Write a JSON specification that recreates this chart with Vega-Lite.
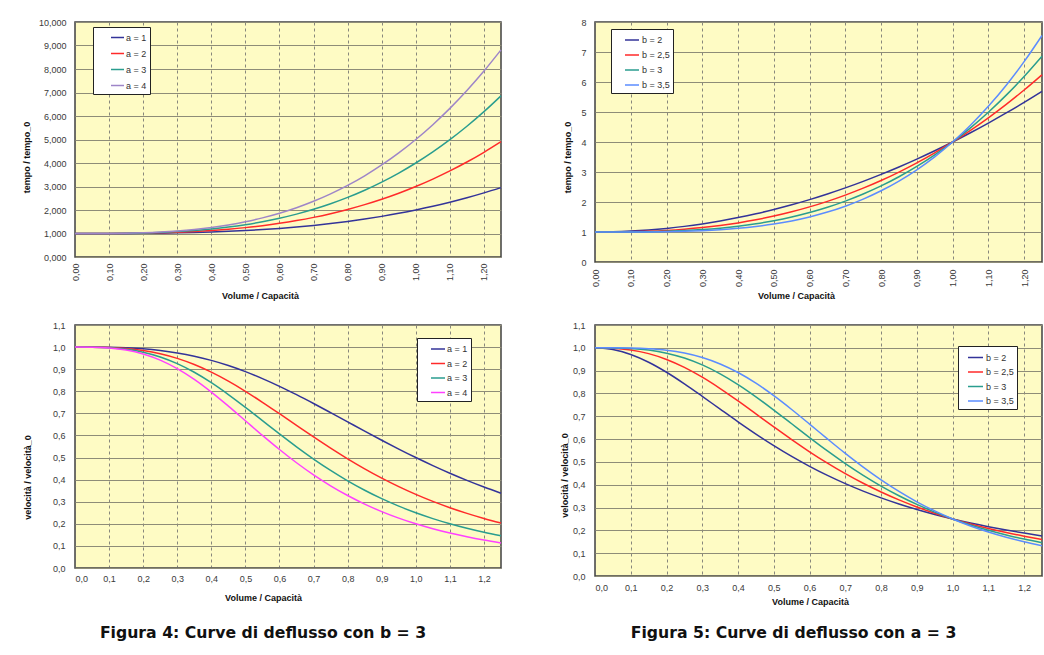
{
  "$schema": "https://vega.github.io/schema/vega-lite/v6.json",
  "padding": {"left": 21, "top": 17, "right": 0, "bottom": 0},
  "background": "white",
  "columns": 2,
  "bounds": "flush",
  "spacing": {"row": 63, "column": 94},
  "datasets": {
    "t4": [
      {"x":0,"a1":1,"a2":1,"a3":1,"a4":1},
      {"x":0.05,"a1":1.0001,"a2":1.0003,"a3":1.0004,"a4":1.0005},
      {"x":0.1,"a1":1.001,"a2":1.002,"a3":1.003,"a4":1.004},
      {"x":0.15,"a1":1.0034,"a2":1.0068,"a3":1.0101,"a4":1.0135},
      {"x":0.2,"a1":1.008,"a2":1.016,"a3":1.024,"a4":1.032},
      {"x":0.25,"a1":1.0156,"a2":1.0313,"a3":1.0469,"a4":1.0625},
      {"x":0.3,"a1":1.027,"a2":1.054,"a3":1.081,"a4":1.108},
      {"x":0.35,"a1":1.0429,"a2":1.0858,"a3":1.1286,"a4":1.1715},
      {"x":0.4,"a1":1.064,"a2":1.128,"a3":1.192,"a4":1.256},
      {"x":0.45,"a1":1.0911,"a2":1.1823,"a3":1.2734,"a4":1.3645},
      {"x":0.5,"a1":1.125,"a2":1.25,"a3":1.375,"a4":1.5},
      {"x":0.55,"a1":1.1664,"a2":1.3328,"a3":1.4991,"a4":1.6655},
      {"x":0.6,"a1":1.216,"a2":1.432,"a3":1.648,"a4":1.864},
      {"x":0.65,"a1":1.2746,"a2":1.5493,"a3":1.8239,"a4":2.0985},
      {"x":0.7,"a1":1.343,"a2":1.686,"a3":2.029,"a4":2.372},
      {"x":0.75,"a1":1.4219,"a2":1.8438,"a3":2.2656,"a4":2.6875},
      {"x":0.8,"a1":1.512,"a2":2.024,"a3":2.536,"a4":3.048},
      {"x":0.85,"a1":1.6141,"a2":2.2283,"a3":2.8424,"a4":3.4565},
      {"x":0.9,"a1":1.729,"a2":2.458,"a3":3.187,"a4":3.916},
      {"x":0.95,"a1":1.8574,"a2":2.7148,"a3":3.5721,"a4":4.4295},
      {"x":1,"a1":2,"a2":3,"a3":4,"a4":5},
      {"x":1.05,"a1":2.1576,"a2":3.3153,"a3":4.4729,"a4":5.6305},
      {"x":1.1,"a1":2.331,"a2":3.662,"a3":4.993,"a4":6.324},
      {"x":1.15,"a1":2.5209,"a2":4.0418,"a3":5.5626,"a4":7.0835},
      {"x":1.2,"a1":2.728,"a2":4.456,"a3":6.184,"a4":7.912},
      {"x":1.25,"a1":2.9531,"a2":4.9063,"a3":6.8594,"a4":8.8125}
    ],
    "v4": [
      {"x":0,"a1":1,"a2":1,"a3":1,"a4":1},
      {"x":0.05,"a1":0.9999,"a2":0.9998,"a3":0.9996,"a4":0.9995},
      {"x":0.1,"a1":0.999,"a2":0.998,"a3":0.997,"a4":0.996},
      {"x":0.15,"a1":0.9966,"a2":0.9933,"a3":0.99,"a4":0.9867},
      {"x":0.2,"a1":0.9921,"a2":0.9843,"a3":0.9766,"a4":0.969},
      {"x":0.25,"a1":0.9846,"a2":0.9697,"a3":0.9552,"a4":0.9412},
      {"x":0.3,"a1":0.9737,"a2":0.9488,"a3":0.9251,"a4":0.9025},
      {"x":0.35,"a1":0.9589,"a2":0.921,"a3":0.886,"a4":0.8536},
      {"x":0.4,"a1":0.9398,"a2":0.8865,"a3":0.8389,"a4":0.7962},
      {"x":0.45,"a1":0.9165,"a2":0.8458,"a3":0.7853,"a4":0.7329},
      {"x":0.5,"a1":0.8889,"a2":0.8,"a3":0.7273,"a4":0.6667},
      {"x":0.55,"a1":0.8574,"a2":0.7503,"a3":0.6671,"a4":0.6004},
      {"x":0.6,"a1":0.8224,"a2":0.6983,"a3":0.6068,"a4":0.5365},
      {"x":0.65,"a1":0.7845,"a2":0.6455,"a3":0.5483,"a4":0.4765},
      {"x":0.7,"a1":0.7446,"a2":0.5931,"a3":0.4929,"a4":0.4216},
      {"x":0.75,"a1":0.7033,"a2":0.5424,"a3":0.4414,"a4":0.3721},
      {"x":0.8,"a1":0.6614,"a2":0.4941,"a3":0.3943,"a4":0.3281},
      {"x":0.85,"a1":0.6195,"a2":0.4488,"a3":0.3518,"a4":0.2893},
      {"x":0.9,"a1":0.5784,"a2":0.4068,"a3":0.3138,"a4":0.2554},
      {"x":0.95,"a1":0.5384,"a2":0.3684,"a3":0.28,"a4":0.2258},
      {"x":1,"a1":0.5,"a2":0.3333,"a3":0.25,"a4":0.2},
      {"x":1.05,"a1":0.4635,"a2":0.3016,"a3":0.2236,"a4":0.1776},
      {"x":1.1,"a1":0.429,"a2":0.2731,"a3":0.2003,"a4":0.1581},
      {"x":1.15,"a1":0.3967,"a2":0.2474,"a3":0.1798,"a4":0.1412},
      {"x":1.2,"a1":0.3666,"a2":0.2244,"a3":0.1617,"a4":0.1264},
      {"x":1.25,"a1":0.3386,"a2":0.2038,"a3":0.1458,"a4":0.1135}
    ],
    "t5": [
      {"x":0,"b2":1,"b25":1,"b3":1,"b35":1},
      {"x":0.05,"b2":1.0075,"b25":1.0017,"b3":1.0004,"b35":1.0001},
      {"x":0.1,"b2":1.03,"b25":1.0095,"b3":1.003,"b35":1.0009},
      {"x":0.15,"b2":1.0675,"b25":1.0261,"b3":1.0101,"b35":1.0039},
      {"x":0.2,"b2":1.12,"b25":1.0537,"b3":1.024,"b35":1.0107},
      {"x":0.25,"b2":1.1875,"b25":1.0938,"b3":1.0469,"b35":1.0234},
      {"x":0.3,"b2":1.27,"b25":1.1479,"b3":1.081,"b35":1.0444},
      {"x":0.35,"b2":1.3675,"b25":1.2174,"b3":1.1286,"b35":1.0761},
      {"x":0.4,"b2":1.48,"b25":1.3036,"b3":1.192,"b35":1.1214},
      {"x":0.45,"b2":1.6075,"b25":1.4075,"b3":1.2734,"b35":1.1834},
      {"x":0.5,"b2":1.75,"b25":1.5303,"b3":1.375,"b35":1.2652},
      {"x":0.55,"b2":1.9075,"b25":1.673,"b3":1.4991,"b35":1.3702},
      {"x":0.6,"b2":2.08,"b25":1.8366,"b3":1.648,"b35":1.5019},
      {"x":0.65,"b2":2.2675,"b25":2.0219,"b3":1.8239,"b35":1.6642},
      {"x":0.7,"b2":2.47,"b25":2.2299,"b3":2.029,"b35":1.8609},
      {"x":0.75,"b2":2.6875,"b25":2.4614,"b3":2.2656,"b35":2.0961},
      {"x":0.8,"b2":2.92,"b25":2.7173,"b3":2.536,"b35":2.3738},
      {"x":0.85,"b2":3.1675,"b25":2.9983,"b3":2.8424,"b35":2.6986},
      {"x":0.9,"b2":3.43,"b25":3.3053,"b3":3.187,"b35":3.0748},
      {"x":0.95,"b2":3.7075,"b25":3.6389,"b3":3.5721,"b35":3.507},
      {"x":1,"b2":4,"b25":4,"b3":4,"b35":4},
      {"x":1.05,"b2":4.3075,"b25":4.3892,"b3":4.4729,"b35":4.5586},
      {"x":1.1,"b2":4.63,"b25":4.8072,"b3":4.993,"b35":5.1879},
      {"x":1.15,"b2":4.9675,"b25":5.2547,"b3":5.5626,"b35":5.8929},
      {"x":1.2,"b2":5.32,"b25":5.7323,"b3":6.184,"b35":6.6788},
      {"x":1.25,"b2":5.6875,"b25":6.2408,"b3":6.8594,"b35":7.551}
    ],
    "v5": [
      {"x":0,"b2":1,"b25":1,"b3":1,"b35":1},
      {"x":0.05,"b2":0.9926,"b25":0.9983,"b3":0.9996,"b35":0.9999},
      {"x":0.1,"b2":0.9709,"b25":0.9906,"b3":0.997,"b35":0.9991},
      {"x":0.15,"b2":0.9368,"b25":0.9745,"b3":0.99,"b35":0.9961},
      {"x":0.2,"b2":0.8929,"b25":0.9491,"b3":0.9766,"b35":0.9894},
      {"x":0.25,"b2":0.8421,"b25":0.9143,"b3":0.9552,"b35":0.9771},
      {"x":0.3,"b2":0.7874,"b25":0.8712,"b3":0.9251,"b35":0.9575},
      {"x":0.35,"b2":0.7313,"b25":0.8214,"b3":0.886,"b35":0.9293},
      {"x":0.4,"b2":0.6757,"b25":0.7671,"b3":0.8389,"b35":0.8917},
      {"x":0.45,"b2":0.6221,"b25":0.7105,"b3":0.7853,"b35":0.845},
      {"x":0.5,"b2":0.5714,"b25":0.6535,"b3":0.7273,"b35":0.7904},
      {"x":0.55,"b2":0.5242,"b25":0.5977,"b3":0.6671,"b35":0.7298},
      {"x":0.6,"b2":0.4808,"b25":0.5445,"b3":0.6068,"b35":0.6658},
      {"x":0.65,"b2":0.441,"b25":0.4946,"b3":0.5483,"b35":0.6009},
      {"x":0.7,"b2":0.4049,"b25":0.4485,"b3":0.4929,"b35":0.5374},
      {"x":0.75,"b2":0.3721,"b25":0.4063,"b3":0.4414,"b35":0.4771},
      {"x":0.8,"b2":0.3425,"b25":0.368,"b3":0.3943,"b35":0.4213},
      {"x":0.85,"b2":0.3157,"b25":0.3335,"b3":0.3518,"b35":0.3706},
      {"x":0.9,"b2":0.2915,"b25":0.3025,"b3":0.3138,"b35":0.3252},
      {"x":0.95,"b2":0.2697,"b25":0.2748,"b3":0.28,"b35":0.2852},
      {"x":1,"b2":0.25,"b25":0.25,"b3":0.25,"b35":0.25},
      {"x":1.05,"b2":0.2322,"b25":0.2278,"b3":0.2236,"b35":0.2194},
      {"x":1.1,"b2":0.216,"b25":0.208,"b3":0.2003,"b35":0.1928},
      {"x":1.15,"b2":0.2013,"b25":0.1903,"b3":0.1798,"b35":0.1697},
      {"x":1.2,"b2":0.188,"b25":0.1745,"b3":0.1617,"b35":0.1497},
      {"x":1.25,"b2":0.1758,"b25":0.1602,"b3":0.1458,"b35":0.1324}
    ]
  },
  "concat": [
    {
      "width": 426, "height": 235,
      "data": {"name": "t4"},
      "transform": [{"fold": ["a1","a2","a3","a4"], "as": ["k","y"]}],
      "mark": {"type": "line", "interpolate": "monotone", "strokeWidth": 1.5},
      "encoding": {
        "x": {"field": "x", "type": "quantitative", "scale": {"domain": [0, 1.25], "nice": false},
          "axis": {"title": "Volume / Capacità", "values": [0,0.1,0.2,0.3,0.4,0.5,0.6,0.7,0.8,0.9,1,1.1,1.2], "format": ".2f", "labelAngle": -90, "labelPadding": 6, "titleX": 185, "titleY": 38, "titleBaseline": "middle"}},
        "y": {"field": "y", "type": "quantitative", "scale": {"domain": [0, 10], "nice": false},
          "axis": {"title": "tempo / tempo_0", "values": [0,1,2,3,4,5,6,7,8,9,10], "format": ".3f", "labelPadding": 9, "titleX": -49, "titleY": 135, "titleBaseline": "middle"}},
        "color": {"field": "k", "type": "nominal",
          "scale": {"domain": ["a1","a2","a3","a4"], "range": ["#333399","#FF2A2A","#2A9D8F","#9E85C8"]},
          "legend": {"legendX": 18, "legendY": 5, "symbolSize": 169, "symbolOffset": 14, "labelOffset": 1, "rowPadding": 3,
            "labelExpr": "'a = ' + substring(datum.label, 1) + '      '"}}
      }
    },
    {
      "width": 447, "height": 240,
      "data": {"name": "t5"},
      "transform": [{"fold": ["b2","b25","b3","b35"], "as": ["k","y"]}],
      "mark": {"type": "line", "interpolate": "monotone", "strokeWidth": 1.5},
      "encoding": {
        "x": {"field": "x", "type": "quantitative", "scale": {"domain": [0, 1.25], "nice": false},
          "axis": {"title": "Volume / Capacità", "values": [0,0.1,0.2,0.3,0.4,0.5,0.6,0.7,0.8,0.9,1,1.1,1.2], "format": ".2f", "labelAngle": -90, "labelPadding": 7, "titleX": 201, "titleY": 33, "titleBaseline": "middle"}},
        "y": {"field": "y", "type": "quantitative", "scale": {"domain": [0, 8], "nice": false},
          "axis": {"title": "tempo / tempo_0", "values": [0,1,2,3,4,5,6,7,8], "format": "d", "labelPadding": 9, "titleX": -28, "titleY": 135, "titleBaseline": "middle"}},
        "color": {"field": "k", "type": "nominal",
          "scale": {"domain": ["b2","b25","b3","b35"], "range": ["#333399","#FF2A2A","#2A9D8F","#5B8CFF"]},
          "legend": {"legendX": 16, "legendY": 7, "symbolSize": 196, "symbolOffset": 10, "labelOffset": 2, "rowPadding": 2,
            "labelExpr": "(datum.label == 'b2' ? 'b = 2' : datum.label == 'b25' ? 'b = 2,5' : datum.label == 'b3' ? 'b = 3' : 'b = 3,5') + '     '"}}
      }
    },
    {
      "width": 426, "height": 243,
      "title": {"text": "Figura 4: Curve di deflusso con b = 3", "orient": "bottom", "anchor": "middle", "frame": "group", "dx": -25, "offset": 24, "font": "DejaVu Sans", "fontSize": 15.7, "fontWeight": "bold", "color": "#111111"},
      "data": {"name": "v4"},
      "transform": [{"fold": ["a1","a2","a3","a4"], "as": ["k","y"]}],
      "mark": {"type": "line", "interpolate": "monotone", "strokeWidth": 1.5},
      "encoding": {
        "x": {"field": "x", "type": "quantitative", "scale": {"domain": [0, 1.25], "nice": false},
          "axis": {"title": "Volume / Capacità", "values": [0,0.1,0.2,0.3,0.4,0.5,0.6,0.7,0.8,0.9,1,1.1,1.2], "format": ".1f", "labelPadding": 6, "titleX": 188, "titleY": 29, "titleBaseline": "middle"}},
        "y": {"field": "y", "type": "quantitative", "scale": {"domain": [0, 1.1], "nice": false},
          "axis": {"title": "velocità / velocità_0", "values": [0,0.1,0.2,0.3,0.4,0.5,0.6,0.7,0.8,0.9,1,1.1], "format": ".1f", "labelPadding": 10, "titleX": -48, "titleY": 152, "titleBaseline": "middle"}},
        "color": {"field": "k", "type": "nominal",
          "scale": {"domain": ["a1","a2","a3","a4"], "range": ["#333399","#FF2A2A","#2A9D8F","#FF40FF"]},
          "legend": {"legendX": 342, "legendY": 13, "symbolSize": 196, "symbolOffset": 10, "labelOffset": 1, "rowPadding": 1.5,
            "labelExpr": "'a = ' + substring(datum.label, 1) + '     '"}}
      }
    },
    {
      "width": 447, "height": 251,
      "title": {"text": "Figura 5: Curve di deflusso con a = 3", "orient": "bottom", "anchor": "middle", "frame": "group", "dx": -25, "offset": 20, "font": "DejaVu Sans", "fontSize": 15.7, "fontWeight": "bold", "color": "#111111"},
      "data": {"name": "v5"},
      "transform": [{"fold": ["b2","b25","b3","b35"], "as": ["k","y"]}],
      "mark": {"type": "line", "interpolate": "monotone", "strokeWidth": 1.5},
      "encoding": {
        "x": {"field": "x", "type": "quantitative", "scale": {"domain": [0, 1.25], "nice": false},
          "axis": {"title": "Volume / Capacità", "values": [0,0.1,0.2,0.3,0.4,0.5,0.6,0.7,0.8,0.9,1,1.1,1.2], "format": ".1f", "labelPadding": 7, "titleX": 215, "titleY": 25, "titleBaseline": "middle"}},
        "y": {"field": "y", "type": "quantitative", "scale": {"domain": [0, 1.1], "nice": false},
          "axis": {"title": "velocità / velocità_0", "values": [0,0.1,0.2,0.3,0.4,0.5,0.6,0.7,0.8,0.9,1,1.1], "format": ".1f", "labelPadding": 10, "titleX": -31, "titleY": 150, "titleBaseline": "middle"}},
        "color": {"field": "k", "type": "nominal",
          "scale": {"domain": ["b2","b25","b3","b35"], "range": ["#333399","#FF2A2A","#2A9D8F","#5B8CFF"]},
          "legend": {"legendX": 363, "legendY": 21, "symbolSize": 225, "symbolOffset": 6, "labelOffset": 2, "rowPadding": 0.5,
            "labelExpr": "(datum.label == 'b2' ? 'b = 2' : datum.label == 'b25' ? 'b = 2,5' : datum.label == 'b3' ? 'b = 3' : 'b = 3,5') + '   '"}}
      }
    }
  ],
  "resolve": {"scale": {"color": "independent"}, "legend": {"color": "independent"}},
  "config": {
    "locale": {"number": {"decimal": ",", "thousands": ".", "grouping": [3], "currency": ["€", ""]}},
    "view": {"fill": "#FEFBC4", "stroke": "#404040", "strokeWidth": 1.5},
    "axis": {
      "labelFont": "Liberation Sans", "labelFontSize": 9, "labelColor": "#3a3a3a",
      "titleFont": "Liberation Sans", "titleFontSize": 9, "titleFontWeight": "bold", "titleColor": "#111111",
      "domain": false, "ticks": false, "grid": true, "gridOpacity": 1
    },
    "axisX": {"gridDash": [3, 3], "gridColor": "#6a6a6a", "gridWidth": 0.8},
    "axisY": {"gridColor": "#8e8c78", "gridWidth": 1},
    "legend": {
      "orient": "none", "title": null,
      "fillColor": "white", "strokeColor": "#222222",
      "padding": 3, "symbolType": "stroke", "symbolStrokeWidth": 1.5,
      "labelFont": "Liberation Sans", "labelFontSize": 9, "labelColor": "#333333"
    }
  }
}
